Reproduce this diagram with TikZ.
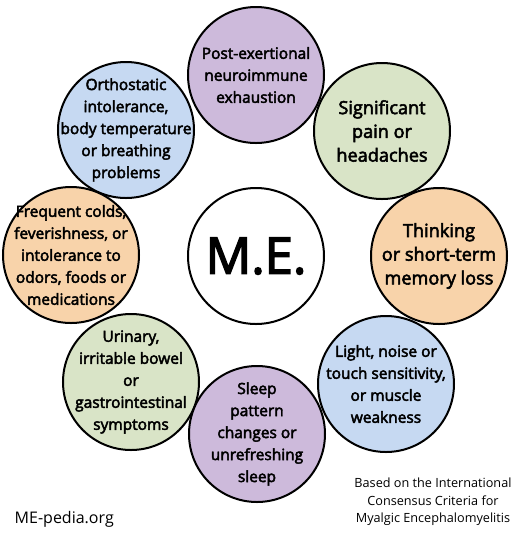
\documentclass[tikz,border=0pt]{standalone}
\usepackage{fontspec}
\setmainfont{Open Sans}
\newfontfamily\semifont{Open Sans}[FakeBold=3]
\definecolor{SymPurple}{RGB}{205, 186, 219}
\definecolor{SymGreen}{RGB}{217, 228, 199}
\definecolor{SymOrange}{RGB}{248, 211, 170}
\definecolor{SymBlue}{RGB}{198, 217, 242}

\begin{document}
\begin{tikzpicture}[
    x=0.75pt, y=-0.75pt,
    symptom/.style={circle, draw=black, line width=1.5pt, minimum size=102pt, inner sep=-30pt, align=center, font=\semifont\fontsize{11.6}{16.5}\selectfont},
    purplebox/.style={symptom, fill=SymPurple},
    greenbox/.style={symptom, fill=SymGreen},
    orangebox/.style={symptom, fill=SymOrange},
    bluebox/.style={symptom, fill=SymBlue},
    bigtext/.style={font=\semifont\fontsize{13.6}{17.8}\selectfont},
    credit/.style={font=\fontsize{9.5}{13}\selectfont, align=center}
]
\useasboundingbox (0,0) rectangle (514,537);

% Outer ring of symptoms
\node[purplebox] (exhaust) at (256, 75) {Post-exertional\\neuroimmune\\exhaustion};
\node[greenbox, bigtext] (pain) at (382, 131) {Significant\\pain or\\headaches};
\node[orangebox, bigtext] (memory) at (439, 256) {Thinking\\or short-term\\memory loss};
\node[bluebox] (sense) at (386, 384) {Light, noise or\\touch sensitivity,\\or muscle\\weakness};
\node[greenbox] (bowel) at (131, 382) {Urinary,\\irritable bowel\\or\\gastrointestinal\\symptoms};
\node[orangebox] (colds) at (71, 255) {Frequent colds,\\feverishness, or\\intolerance to\\odors, foods or\\medications};
\node[bluebox] (ortho) at (126, 130) {Orthostatic\\intolerance,\\body temperature\\or breathing\\problems};
\node[purplebox] (sleep) at (257, 434) {Sleep\\pattern\\changes or\\unrefreshing\\sleep};

% Center
\node[symptom, fill=white, font=\semifont\fontsize{38}{40}\selectfont] (me) at (256, 256) {M.E.};

% Credits
\node[font=\fontsize{12}{14}\selectfont, anchor=west] (site) at (10, 519) {ME-pedia.org};
\node[credit] (source) at (433, 502) {Based on the International\\Consensus Criteria for\\Myalgic Encephalomyelitis};

\end{tikzpicture}
\end{document}
